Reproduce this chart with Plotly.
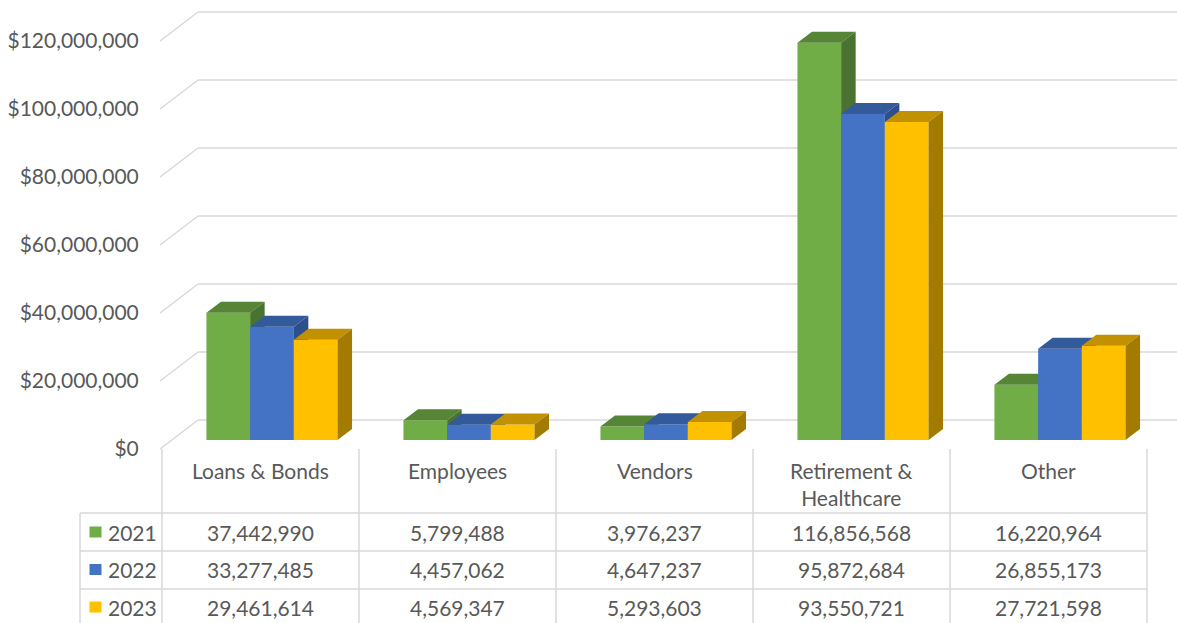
import plotly.graph_objects as go

# ---------------- data ----------------
categories = ["Loans & Bonds", "Employees", "Vendors", "Retirement &<br>Healthcare", "Other"]
series_names = ["2021", "2022", "2023"]
v2021 = [37442990, 5799488, 3976237, 116856568, 16220964]
v2022 = [33277485, 4457062, 4647237, 95872684, 26855173]
v2023 = [29461614, 4569347, 5293603, 93550721, 27721598]
tick_values = [0, 20000000, 40000000, 60000000, 80000000, 100000000, 120000000]
tick_labels = ["$0", "$20,000,000", "$40,000,000", "$60,000,000", "$80,000,000", "$100,000,000", "$120,000,000"]

series_values = [v2021, v2022, v2023]
front_colors = ["#70AD47", "#4472C4", "#FFC000"]
top_colors = ["#568536", "#335A9B", "#C29100"]
side_colors = ["#4A7230", "#2D4F8C", "#A27B00"]

# ---------------- geometry (pixels) ----------------
W, H = 1177, 623
ML = 150                 # left margin (plot area starts here)
CAT_W = 197.0            # category width in px
CAT0 = 260.5             # px center of first category (front plane)
Y0 = 449.0               # px of value 0 on front plane
K = 68.0 / 20e6          # px per dollar
WALL_DX, WALL_DY = 38.0, 29.0     # front -> back wall offset
BAR_DX, BAR_DY = 11.5, 9.0        # front -> bar plane offset
DEP_DX, DEP_DY = 14.5, 11.0       # bar depth
BAR_W_PX = 43.7
FS = 21

x_range = [(ML - CAT0) / CAT_W, (W - CAT0) / CAT_W]
y_range = [(Y0 - H) / K, Y0 / K]

def dxu(px):
    return px / CAT_W

def dyu(px):
    return px / K

def paper(px, py):
    return (px - ML) / (W - ML), 1 - py / H

fig = go.Figure()

# ---------------- bars with 3D faces ----------------
base = dyu(BAR_DY)
bw = dxu(BAR_W_PX)
for s, vals in enumerate(series_values):
    xs = [i + dxu(BAR_DX) + (s - 1) * bw for i in range(len(categories))]
    fig.add_trace(go.Bar(x=xs, y=vals, base=base, width=bw, marker_color=front_colors[s],
                         marker_line_width=0, name=series_names[s], showlegend=False,
                         zorder=2 * s))
    tx, ty, sx, sy = [], [], [], []
    for xc, v in zip(xs, vals):
        xl, xr = xc - bw / 2, xc + bw / 2
        yt = base + v
        ddx, ddy = dxu(DEP_DX), dyu(DEP_DY)
        tx += [xl, xr, xr + ddx, xl + ddx, xl, None]
        ty += [yt, yt, yt + ddy, yt + ddy, yt, None]
        sx += [xr, xr, xr + ddx, xr + ddx, xr, None]
        sy += [base, yt, yt + ddy, base + ddy, base, None]
    fig.add_trace(go.Scatter(x=tx, y=ty, fill="toself", fillcolor=top_colors[s], mode="lines",
                             line=dict(width=0), hoverinfo="skip", showlegend=False,
                             zorder=2 * s + 1))
    fig.add_trace(go.Scatter(x=sx, y=sy, fill="toself", fillcolor=side_colors[s], mode="lines",
                             line=dict(width=0), hoverinfo="skip", showlegend=False,
                             zorder=2 * s + 1))

# ---------------- gridlines (front diagonal + back wall) ----------------
GRID = "#D9D9D9"
x_front = (160 - CAT0) / CAT_W
x_back = x_front + dxu(WALL_DX)
for tv in tick_values:
    fig.add_shape(type="line", xref="x", yref="y", x0=x_front, y0=tv, x1=x_back, y1=tv + dyu(WALL_DY),
                  line=dict(color=GRID, width=1.5), layer="below")
    fig.add_shape(type="line", xref="x", yref="y", x0=x_back, y0=tv + dyu(WALL_DY), x1=x_range[1], y1=tv + dyu(WALL_DY),
                  line=dict(color=GRID, width=1.5), layer="below")

# ---------------- data table ----------------
TXT = "#595959"
FONT = "Lato"
TL = 80.0
col_edges = [162 + CAT_W * i for i in range(len(categories) + 1)]
row_lines = [513.0, 551.0, 589.0, 627.0]
row_centers = [532.0, 569.5, 607.0]

def pline(x0, y0, x1, y1):
    a, b = paper(x0, y0)
    c, d = paper(x1, y1)
    fig.add_shape(type="line", xref="paper", yref="paper", x0=a, y0=b, x1=c, y1=d,
                  line=dict(color=GRID, width=1.5))

for cx in col_edges:
    pline(cx, Y0, cx, row_lines[-1])
pline(TL, row_lines[0], TL, row_lines[-1])
for ry in row_lines:
    pline(TL, ry, col_edges[-1], ry)

for i, cat in enumerate(categories):
    cx = (col_edges[i] + col_edges[i + 1]) / 2
    px_, py_ = paper(cx, 456)
    fig.add_annotation(x=px_, y=py_, xref="paper", yref="paper", text=cat, showarrow=False,
                       xanchor="center", yanchor="top", align="center",
                       font=dict(family=FONT, size=FS, color=TXT))
    for r, vals in enumerate(series_values):
        px_, py_ = paper(cx, row_centers[r])
        fig.add_annotation(x=px_, y=py_, xref="paper", yref="paper", text=f"{vals[i]:,}",
                           showarrow=False, xanchor="center", yanchor="middle",
                           font=dict(family=FONT, size=FS, color=TXT))

for r, name in enumerate(series_names):
    a, b = paper(89.5, row_centers[r] - 5.5)
    c, d = paper(101.5, row_centers[r] + 5.5)
    fig.add_shape(type="rect", xref="paper", yref="paper", x0=a, y0=b, x1=c, y1=d,
                  fillcolor=front_colors[r], line=dict(width=0))
    px_, py_ = paper(106, row_centers[r])
    fig.add_annotation(x=px_, y=py_, xref="paper", yref="paper", text=name, showarrow=False,
                       xanchor="left", yanchor="middle", font=dict(family=FONT, size=FS, color=TXT))

fig.update_layout(
    width=W, height=H,
    margin=dict(l=ML, r=0, t=0, b=0),
    paper_bgcolor="white", plot_bgcolor="white",
    barmode="overlay",
    showlegend=False,
    xaxis=dict(range=x_range, visible=False, fixedrange=True),
    yaxis=dict(range=y_range, tickvals=tick_values, ticktext=tick_labels,
               showgrid=False, zeroline=False, showline=False,
               ticks="outside", ticklen=6, tickcolor="rgba(0,0,0,0)",
               tickfont=dict(family=FONT, size=FS, color=TXT), fixedrange=True),
)

fig.write_html("out.html")
